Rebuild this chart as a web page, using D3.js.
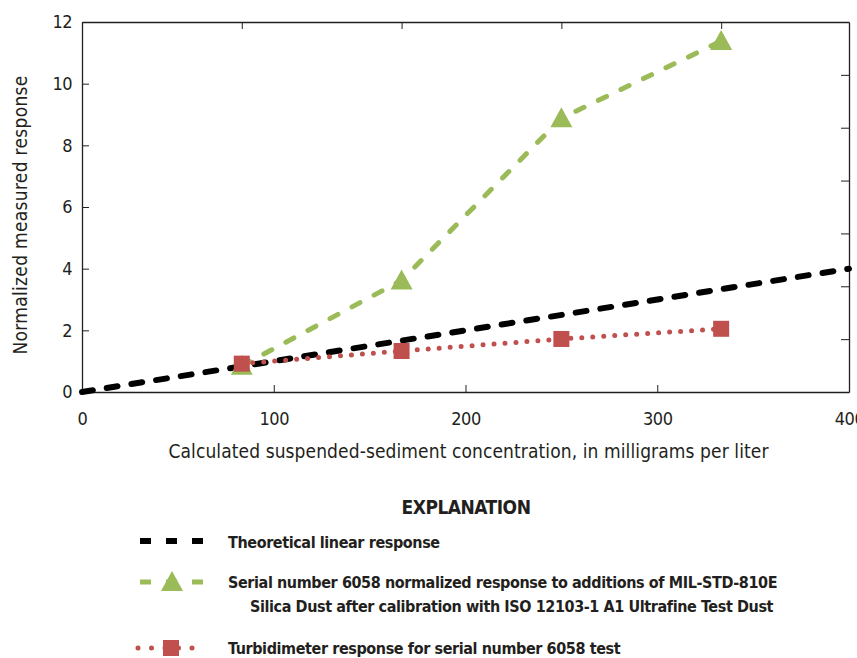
<!DOCTYPE html>
<html>
<head>
<meta charset="utf-8">
<script src="https://cdn.jsdelivr.net/npm/d3@7"></script>
<style>
  body { margin: 0; background: #fff; }
  svg { display: block; }
  text { font-family: "Liberation Sans Narrow", "DejaVu Sans Condensed", "Roboto", sans-serif; fill: #231f20; }
  .tick line, .domain { stroke: #231f20; }
</style>
</head>
<body>
<script>
const width = 857, height = 658
const margin = {top: 22, right: 8, bottom: 266, left: 82}

// data
const concentration = [83.33, 166.67, 250, 333.33]
const dustResponse = [0.85, 3.62, 8.88, 11.38]
const turbidimeterResponse = [0.92, 1.33, 1.72, 2.05]
const theoreticalX = [0, 400]
const theoreticalY = [0, 4]
const xTicks = [0, 100, 200, 300, 400]
const yTicks = [0, 2, 4, 6, 8, 10, 12]
const rightTicks = [0, 1, 2, 3, 4, 5, 6, 7]

const green = "#9bbb59", red = "#c0504d"

let svg = d3.select("body")
    .append("svg")
    .attr("width", width)
    .attr("height", height)

const iw = width - margin.left - margin.right
const ih = height - margin.top - margin.bottom

let g = svg.append("g")
    .attr("transform", `translate(${margin.left},${margin.top})`)

const x = d3.scaleLinear().domain([0, 400]).range([0, iw])
const y = d3.scaleLinear().domain([0, 12]).range([ih, 0])
const yRight = d3.scaleLinear().domain([0, 7]).range([ih, 0])

// axes, ticks pointing inward
g.append("g")
    .attr("transform", `translate(0,${ih})`)
    .call(d3.axisBottom(x).tickValues(xTicks).tickSizeInner(-7).tickSizeOuter(0).tickPadding(20))
g.append("g")
    .call(d3.axisTop(x).tickValues(concentration).tickSizeInner(-7).tickSizeOuter(0).tickFormat(""))
g.append("g")
    .call(d3.axisLeft(y).tickValues(yTicks).tickSizeInner(-7).tickSizeOuter(0).tickPadding(10))
g.append("g")
    .attr("transform", `translate(${iw},0)`)
    .call(d3.axisRight(yRight).tickValues(rightTicks).tickSizeInner(-8).tickSizeOuter(0).tickFormat(""))

g.selectAll(".tick text").style("font-size", "18px").style("letter-spacing", "-0.5px")
g.selectAll(".domain").attr("stroke-width", 1.3)

// axis titles
svg.append("text")
    .attr("x", margin.left + x(200) + 3)
    .attr("y", 458)
    .attr("text-anchor", "middle")
    .style("font-size", "19px")
    .style("letter-spacing", "0.1px")
    .text("Calculated suspended-sediment concentration, in milligrams per liter")

svg.append("text")
    .attr("transform", `translate(27,${margin.top + ih / 2 + 8}) rotate(-90)`)
    .attr("text-anchor", "middle")
    .style("font-size", "19px")
    .style("letter-spacing", "0.3px")
    .text("Normalized measured response")

const line = d3.line()

// theoretical
g.append("path")
    .attr("d", line(theoreticalX.map((d, i) => [x(d), y(theoreticalY[i])])))
    .attr("fill", "none")
    .attr("stroke", "#000")
    .attr("stroke-width", 6)
    .attr("stroke-linecap", "round")
    .attr("stroke-dasharray", "11,14")

// dust response
g.append("path")
    .attr("d", line(concentration.map((d, i) => [x(d), y(dustResponse[i])])))
    .attr("fill", "none")
    .attr("stroke", green)
    .attr("stroke-width", 5)
    .attr("stroke-linecap", "round")
    .attr("stroke-dasharray", "9,16")

const tri = "M0,-11L11,9L-11,9Z"
g.selectAll(".tri")
    .data(concentration)
    .join("path")
    .attr("class", "tri")
    .attr("d", tri)
    .attr("transform", (d, i) => `translate(${x(d)},${y(dustResponse[i])})`)
    .attr("fill", green)

// turbidimeter
g.append("path")
    .attr("d", line(concentration.map((d, i) => [x(d), y(turbidimeterResponse[i])])))
    .attr("fill", "none")
    .attr("stroke", red)
    .attr("stroke-width", 5)
    .attr("stroke-linecap", "round")
    .attr("stroke-dasharray", "0,11")

g.selectAll(".sq")
    .data(concentration)
    .join("rect")
    .attr("class", "sq")
    .attr("x", d => x(d) - 8)
    .attr("y", (d, i) => y(turbidimeterResponse[i]) - 8)
    .attr("width", 16)
    .attr("height", 16)
    .attr("fill", red)

// legend
svg.append("text")
    .attr("x", 466)
    .attr("y", 514)
    .attr("text-anchor", "middle")
    .style("font-size", "19px")
    .style("letter-spacing", "-0.5px")
    .style("font-weight", "bold")
    .text("EXPLANATION")

const lg = svg.append("g")
const lx0 = 138, lx1 = 205

lg.append("line")
    .attr("x1", lx0 + 2).attr("x2", lx1).attr("y1", 541).attr("y2", 541)
    .attr("stroke", "#000").attr("stroke-width", 6)
    .attr("stroke-dasharray", "11,15")

lg.append("line")
    .attr("x1", lx0 + 2).attr("x2", lx1).attr("y1", 582).attr("y2", 582)
    .attr("stroke", green).attr("stroke-width", 5)
    .attr("stroke-dasharray", "11,15")
lg.append("path")
    .attr("d", tri)
    .attr("transform", `translate(172,582)`)
    .attr("fill", green)

lg.append("line")
    .attr("x1", lx0).attr("x2", lx1).attr("y1", 648).attr("y2", 648)
    .attr("stroke", red).attr("stroke-width", 5)
    .attr("stroke-linecap", "round")
    .attr("stroke-dasharray", "0,13.5")
lg.append("rect")
    .attr("x", 163).attr("y", 640).attr("width", 16).attr("height", 16)
    .attr("fill", red)

const legendText = [
    {x: 228, y: 548, t: "Theoretical linear response"},
    {x: 228, y: 588, t: "Serial number 6058 normalized response to additions of MIL-STD-810E"},
    {x: 250, y: 612, t: "Silica Dust after calibration with ISO 12103-1 A1 Ultrafine Test Dust"},
    {x: 228, y: 654, t: "Turbidimeter response for serial number 6058 test"}
]
lg.selectAll(".lt")
    .data(legendText)
    .join("text")
    .attr("class", "lt")
    .attr("x", d => d.x)
    .attr("y", d => d.y)
    .style("font-size", "16px")
    .style("letter-spacing", "-0.4px")
    .style("font-weight", "bold")
    .text(d => d.t)
</script>
</body>
</html>
